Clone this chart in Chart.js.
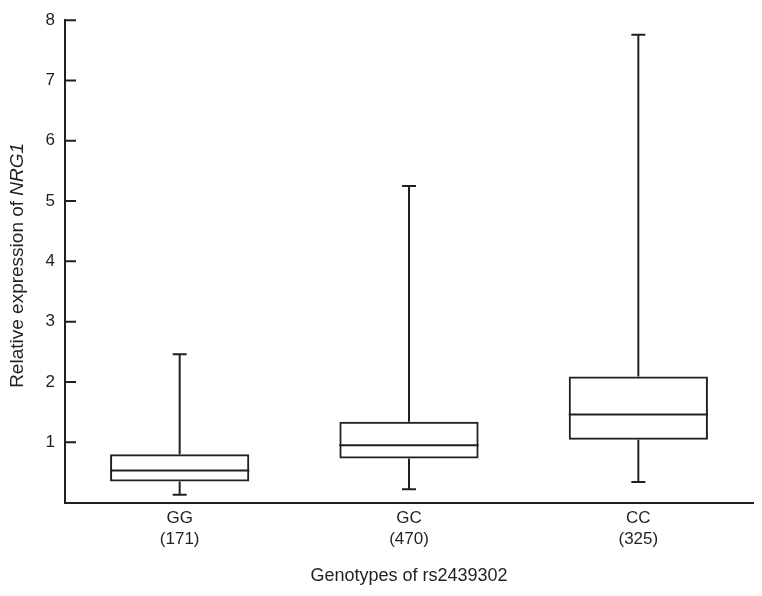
<!DOCTYPE html>
<html>
<head>
<meta charset="utf-8">
<script src="https://cdn.jsdelivr.net/npm/chart.js@4.4.1/dist/chart.umd.min.js"></script>
<style>
  html, body { margin: 0; padding: 0; background: #fff; }
  #wrap { width: 762px; height: 596px; }
</style>
</head>
<body>
<div id="wrap"><canvas id="boxChart" width="762" height="596"></canvas></div>
<script>
// Genotypen und Anzahl der Proben
const genotypes = ["GG", "GC", "CC"];
const sampleCounts = [171, 470, 325];

// Boxplot-Werte
const whiskerMin = [0.13, 0.22, 0.34];
const quartile1 = [0.35, 0.73, 1.04];
const medians = [0.53, 0.95, 1.46];
const quartile3 = [0.80, 1.34, 2.09];
const whiskerMax = [2.46, 5.25, 7.76];

const yTicks = [1, 2, 3, 4, 5, 6, 7, 8];

const lineColor = "#231f20";
const fontFamily = "'Liberation Sans', Arial, Helvetica, sans-serif";

// Whisker, Median und nach innen zeigende Striche zeichnen
const boxPlotPlugin = {
  id: "boxPlot",
  afterDatasetsDraw(chart) {
    const ctx = chart.ctx;
    const yScale = chart.scales.y;
    const meta = chart.getDatasetMeta(0);
    ctx.save();
    ctx.strokeStyle = lineColor;
    ctx.lineWidth = 2;
    meta.data.forEach((bar, i) => {
      const x = bar.x;
      const half = bar.width / 2;
      const yMin = yScale.getPixelForValue(whiskerMin[i]);
      const yQ1 = yScale.getPixelForValue(quartile1[i]);
      const yMed = yScale.getPixelForValue(medians[i]);
      const yQ3 = yScale.getPixelForValue(quartile3[i]);
      const yMax = yScale.getPixelForValue(whiskerMax[i]);
      ctx.beginPath();
      // oberer Whisker
      ctx.moveTo(x, yQ3);
      ctx.lineTo(x, yMax);
      ctx.moveTo(x - 7, yMax);
      ctx.lineTo(x + 7, yMax);
      // unterer Whisker
      ctx.moveTo(x, yQ1);
      ctx.lineTo(x, yMin);
      ctx.moveTo(x - 7, yMin);
      ctx.lineTo(x + 7, yMin);
      // Median
      ctx.moveTo(x - half, yMed);
      ctx.lineTo(x + half, yMed);
      ctx.stroke();
    });
    ctx.restore();
  },
  afterDraw(chart) {
    const ctx = chart.ctx;
    const yScale = chart.scales.y;
    const left = chart.chartArea.left;
    ctx.save();
    ctx.strokeStyle = lineColor;
    ctx.lineWidth = 2;
    ctx.beginPath();
    yTicks.forEach((v) => {
      const y = yScale.getPixelForValue(v);
      ctx.moveTo(left, y);
      ctx.lineTo(left + 11, y);
    });
    ctx.stroke();

    // Y-Achsentitel mit kursivem Gennamen
    const part1 = "Relative expression of ";
    const part2 = "NRG1";
    const normalFont = "19px " + fontFamily;
    const italicFont = "italic 19px " + fontFamily;
    ctx.font = normalFont;
    const w1 = ctx.measureText(part1).width;
    ctx.font = italicFont;
    const w2 = ctx.measureText(part2).width;
    const midY = (chart.chartArea.top + chart.chartArea.bottom) / 2 + 4;
    ctx.translate(23, midY);
    ctx.rotate(-Math.PI / 2);
    ctx.fillStyle = lineColor;
    ctx.textBaseline = "alphabetic";
    ctx.textAlign = "left";
    const start = -(w1 + w2) / 2;
    ctx.font = normalFont;
    ctx.fillText(part1, start, 0);
    ctx.font = italicFont;
    ctx.fillText(part2, start + w1, 0);
    ctx.restore();
  },
};

const ctx = document.getElementById("boxChart").getContext("2d");
new Chart(ctx, {
  type: "bar",
  data: {
    labels: genotypes.map((g, i) => [g, "(" + sampleCounts[i] + ")"]),
    datasets: [
      {
        data: genotypes.map((g, i) => [quartile1[i], quartile3[i]]),
        backgroundColor: "rgba(255,255,255,0)",
        borderColor: lineColor,
        borderWidth: 2,
        borderSkipped: false,
        barPercentage: 0.607,
        categoryPercentage: 1,
      },
    ],
  },
  options: {
    responsive: false,
    animation: false,
    devicePixelRatio: 1,
    layout: {
      padding: { left: 25, right: 9, top: 16, bottom: 0 },
    },
    plugins: {
      legend: { display: false },
      tooltip: { enabled: false },
    },
    scales: {
      x: {
        grid: { display: false, drawTicks: false },
        border: { display: true, color: lineColor, width: 2 },
        ticks: {
          color: lineColor,
          padding: 5,
          font: { family: fontFamily, size: 17, lineHeight: 1.25 },
        },
        title: {
          display: true,
          text: "Genotypes of rs2439302",
          color: lineColor,
          padding: { top: 0, bottom: 9 },
          font: { family: fontFamily, size: 18 },
        },
        afterFit(scale) {
          scale.height = 93.5;
        },
      },
      y: {
        min: 0,
        max: 8,
        grid: { display: false, drawTicks: false },
        border: { display: true, color: lineColor, width: 2 },
        ticks: {
          stepSize: 1,
          color: lineColor,
          padding: 10,
          font: { family: fontFamily, size: 17 },
          callback: (v) => (v === 0 ? "" : v),
        },
        afterFit(scale) {
          scale.width = 40;
        },
      },
    },
  },
  plugins: [boxPlotPlugin],
});
</script>
</body>
</html>
